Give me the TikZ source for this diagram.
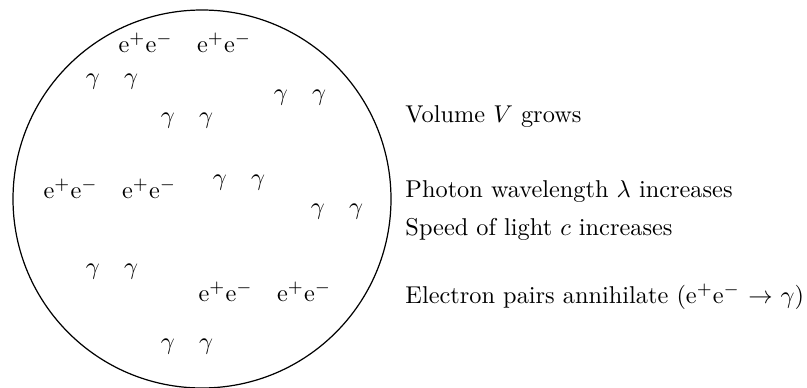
\documentclass[tikz,border=0pt]{standalone}
\usepackage{amsmath}
\usepackage{tikz}
\usetikzlibrary{positioning}

\begin{document}
\begin{tikzpicture}[x=0.411pt, y=-0.411pt,
  part/.style={inner sep=0pt},
  note/.style={anchor=west, inner sep=0pt}
]
\useasboundingbox (0,0) rectangle (807,387);
% ---- the universe -------------------------------------------------------
\draw[line width=0.5pt] (202,199) circle[radius=189];

% ---- photons ------------------------------------------------------------
\foreach \n/\x/\y in {a/112/82, b/187/121, c/300/98, d/239/183, e/337/212, f/112/272, g/187/347} {
  \node[part] (ph\n) at (\x,\y) {$\gamma\quad\gamma$};
}
% ---- electron pairs -----------------------------------------------------
\foreach \n/\x/\y in {a/185/43, b/110/189, c/265/292} {
  \node[part] (ep\n) at (\x,\y) {e$^+$e$^-$\quad e$^+$e$^-$};
}

% ---- what happens -------------------------------------------------------
\node[note] (vol) at (405,117) {Volume $V$ grows};
\node[note] (lam) at (405,192) {Photon wavelength $\lambda$ increases};
\node[note] (spd) at (405,229) {Speed of light $c$ increases};
\node[note] (ann) at (405,297) {Electron pairs annihilate (e$^+$e$^-$ $\rightarrow$ $\gamma$)};
\end{tikzpicture}
\end{document}
